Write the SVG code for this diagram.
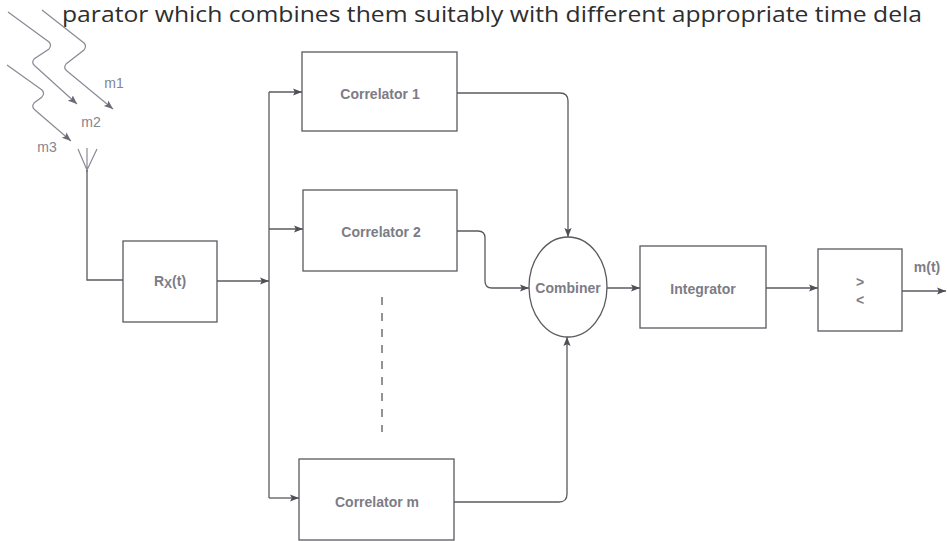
<svg xmlns="http://www.w3.org/2000/svg" width="947" height="541" viewBox="0 0 947 541">
  <defs>
    <style>
      .box { fill: none; stroke: #5a5a60; stroke-width: 1.3; }
      .wire { fill: none; stroke: #5a5a60; stroke-width: 1.3; }
      .ray { fill: none; stroke: #8a8a96; stroke-width: 1.2; }
      .lbl { font-family: "Liberation Sans", Arial, sans-serif; font-size: 14px; font-weight: bold; fill: #7c7c86; text-anchor: middle; dominant-baseline: central; }
      .sig { font-family: "Liberation Sans", Arial, sans-serif; font-size: 14px; fill: #85858f; text-anchor: middle; dominant-baseline: central; }
      .para { font-family: "Open Sans", "Liberation Sans", sans-serif; font-size: 21px; fill: #2e2e2e; }
    </style>
    <marker id="arrow" viewBox="0 0 10 10" refX="10" refY="5" markerWidth="9" markerHeight="9" markerUnits="userSpaceOnUse" orient="auto">
      <path d="M0,1 L10,5 L0,9 L2,5 Z" fill="#4f4f55"/>
    </marker>
    <marker id="rayarrow" viewBox="0 0 10 10" refX="10" refY="5" markerWidth="9" markerHeight="9" markerUnits="userSpaceOnUse" orient="auto">
      <path d="M0,1 L10,5 L0,9 L2,5 Z" fill="#6a6a75"/>
    </marker>
  </defs>

  <rect x="0" y="0" width="947" height="541" fill="#ffffff"/>

  <!-- running text line above the figure -->
  <text class="para" x="62" y="22" textLength="860" lengthAdjust="spacingAndGlyphs">parator which combines them suitably with different appropriate time dela</text>

  <!-- incoming multipath signals -->
  <g id="signals">
    <path class="ray" d="M42,10 L84,43 Q87,46 84,50 L66,64 Q63,68 67,71 L113,109" marker-end="url(#rayarrow)"/>
    <path class="ray" d="M8,12 L49,42 Q52,45 49,49 L34,59 Q31,63 35,66 L77,104" marker-end="url(#rayarrow)"/>
    <path class="ray" d="M7,65 L42,90 Q45,93 42,97 L34,103 Q31,107 35,110 L71,141" marker-end="url(#rayarrow)"/>
    <text class="sig" x="114" y="83">m1</text>
    <text class="sig" x="91" y="122">m2</text>
    <text class="sig" x="47" y="147">m3</text>
  </g>

  <!-- receive antenna -->
  <g id="antenna">
    <path class="ray" d="M78,149 L87,170 L97,149 M87,148 V172"/>
  </g>

  <g id="rx">
    <rect class="box" x="123" y="241" width="94" height="81"/>
    <text class="lbl" x="170" y="281">R<tspan font-size="12" dy="3">X</tspan><tspan dy="-3">(t)</tspan></text>
  </g>

  <g id="correlator1">
    <rect class="box" x="302" y="52" width="155" height="79"/>
    <text class="lbl" x="380" y="94">Correlator 1</text>
  </g>

  <g id="correlator2">
    <rect class="box" x="303" y="190" width="154" height="81"/>
    <text class="lbl" x="381" y="232">Correlator 2</text>
  </g>

  <g id="correlatorm">
    <rect class="box" x="299" y="459" width="155" height="81"/>
    <text class="lbl" x="377" y="502">Correlator m</text>
  </g>

  <g id="combiner">
    <ellipse class="box" cx="568" cy="287" rx="39" ry="50"/>
    <text class="lbl" x="568" y="288">Combiner</text>
  </g>

  <g id="integrator">
    <rect class="box" x="640" y="246" width="126" height="82"/>
    <text class="lbl" x="703" y="289">Integrator</text>
  </g>

  <g id="comparator">
    <rect class="box" x="818" y="249" width="84" height="82"/>
    <text class="lbl" x="860" y="282">&gt;</text>
    <text class="lbl" x="860" y="300">&lt;</text>
    <text class="lbl" x="927" y="267">m(t)</text>
  </g>

  <!-- connectors -->
  <g id="connectors">
    <path class="wire" d="M87,170 V280 H123"/>
    <path class="wire" d="M217,281 H269" marker-end="url(#arrow)"/>
    <path class="wire" d="M269,92 V498"/>
    <path class="wire" d="M269,92 H302" marker-end="url(#arrow)"/>
    <path class="wire" d="M269,229 H303" marker-end="url(#arrow)"/>
    <path class="wire" d="M269,498 H299" marker-end="url(#arrow)"/>
    <path class="wire" d="M382,297 V432" stroke-dasharray="8 8"/>
    <path class="wire" d="M457,93 H560 Q568,93 568,101 V237" marker-end="url(#arrow)"/>
    <path class="wire" d="M457,231 H478 Q485,231 485,238 V281 Q485,288 492,288 H529" marker-end="url(#arrow)"/>
    <path class="wire" d="M454,502 H559 Q567,502 567,494 V337" marker-end="url(#arrow)"/>
    <path class="wire" d="M607,288 H640" marker-end="url(#arrow)"/>
    <path class="wire" d="M766,288 H818" marker-end="url(#arrow)"/>
    <path class="wire" d="M902,291 H946" marker-end="url(#arrow)"/>
  </g>
</svg>
